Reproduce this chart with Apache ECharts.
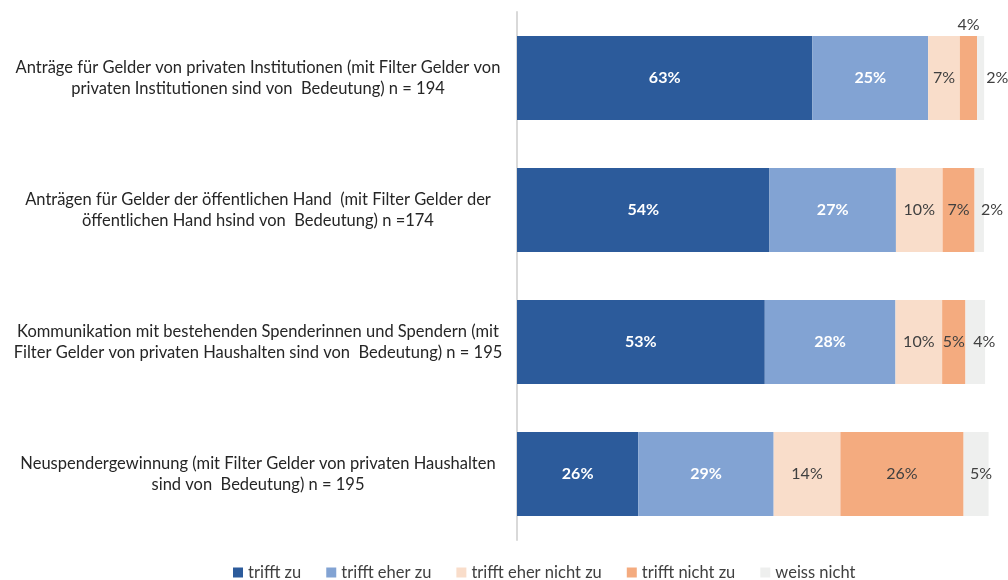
<!DOCTYPE html>
<html>
<head>
<meta charset="utf-8">
<script src="https://cdn.jsdelivr.net/npm/echarts@6/dist/echarts.min.js"></script>
<style>
  html, body { margin: 0; padding: 0; background: #fff; }
  #chart { width: 1008px; height: 580px; }
</style>
</head>
<body>
<div id="chart"></div>
<script>
const categories = [
  'Anträge für Gelder von privaten Institutionen (mit Filter Gelder von\nprivaten Institutionen sind von  Bedeutung) n = 194',
  'Anträgen für Gelder der öffentlichen Hand  (mit Filter Gelder der\nöffentlichen Hand hsind von  Bedeutung) n =174',
  'Kommunikation mit bestehenden Spenderinnen und Spendern (mit\nFilter Gelder von privaten Haushalten sind von  Bedeutung) n = 195',
  'Neuspendergewinnung (mit Filter Gelder von privaten Haushalten\nsind von  Bedeutung) n = 195'
]
const seriesNames = ['trifft zu', 'trifft eher zu', 'trifft eher nicht zu', 'trifft nicht zu', 'weiss nicht']
const trifftZu = [63.3, 54.1, 53.1, 26.0]
const trifftEherZu = [24.8, 27.1, 28.0, 29.0]
const trifftEherNichtZu = [6.8, 10.0, 10.0, 14.3]
const trifftNichtZu = [3.7, 6.85, 5.0, 26.4]
const weissNicht = [1.5, 2.0, 4.2, 5.35]

const colors = ['#2c5b9b', '#82a3d3', '#f9ddca', '#f4ab7f', '#eeefee']
const font = 'Lato, "Open Sans", sans-serif'

const chart = echarts.init(document.getElementById('chart'))

function pct(p) {
  return Math.round(p.value) + '%'
}

// kleine Segmente: Beschriftung oben bzw. rechts neben dem Balken
function withLabels(values, overrides) {
  return values.map((v, i) => {
    if (overrides && overrides[i]) {
      return { value: v, label: overrides[i] }
    }
    return v
  })
}

const darkLabel = {
  show: true,
  position: 'inside',
  color: '#404040',
  fontSize: 16,
  fontFamily: font,
  formatter: pct
}
const whiteLabel = {
  show: true,
  position: 'inside',
  color: '#fff',
  fontSize: 16,
  fontWeight: 'bold',
  fontFamily: font,
  formatter: pct
}

const allData = [trifftZu, trifftEherZu, trifftEherNichtZu, trifftNichtZu, weissNicht]
const overrides = [
  null,
  null,
  null,
  { 0: { position: 'top', distance: 3 } },
  {
    0: { position: 'right', distance: 2 },
    1: { position: 'right', distance: -3 },
    2: { offset: [9, 0] },
    3: { offset: [5, 0] }
  }
]

chart.setOption({
  backgroundColor: '#ffffff',
  animation: false,
  grid: {
    left: 517,
    right: 15,
    top: 12,
    bottom: 40
  },
  legend: {
    bottom: -6,
    left: 228,
    itemWidth: 10,
    itemHeight: 10,
    itemGap: 25,
    icon: 'rect',
    textStyle: {
      color: '#404040',
      fontSize: 16.5,
      fontFamily: font
    },
    data: seriesNames
  },
  xAxis: {
    type: 'value',
    min: 0,
    max: 102,
    show: false
  },
  yAxis: {
    type: 'category',
    inverse: true,
    data: categories,
    axisLine: {
      lineStyle: {
        color: '#d9d9d9',
        width: 2
      }
    },
    axisTick: {
      show: false
    },
    axisLabel: {
      align: 'center',
      margin: 259,
      color: '#262626',
      fontSize: 16.5,
      lineHeight: 21,
      fontFamily: font
    }
  },
  series: allData.map((d, k) => ({
    name: seriesNames[k],
    type: 'bar',
    stack: 'total',
    barWidth: 84,
    itemStyle: {
      color: colors[k]
    },
    label: k < 2 ? whiteLabel : darkLabel,
    data: withLabels(d, overrides[k])
  }))
})
</script>
</body>
</html>
